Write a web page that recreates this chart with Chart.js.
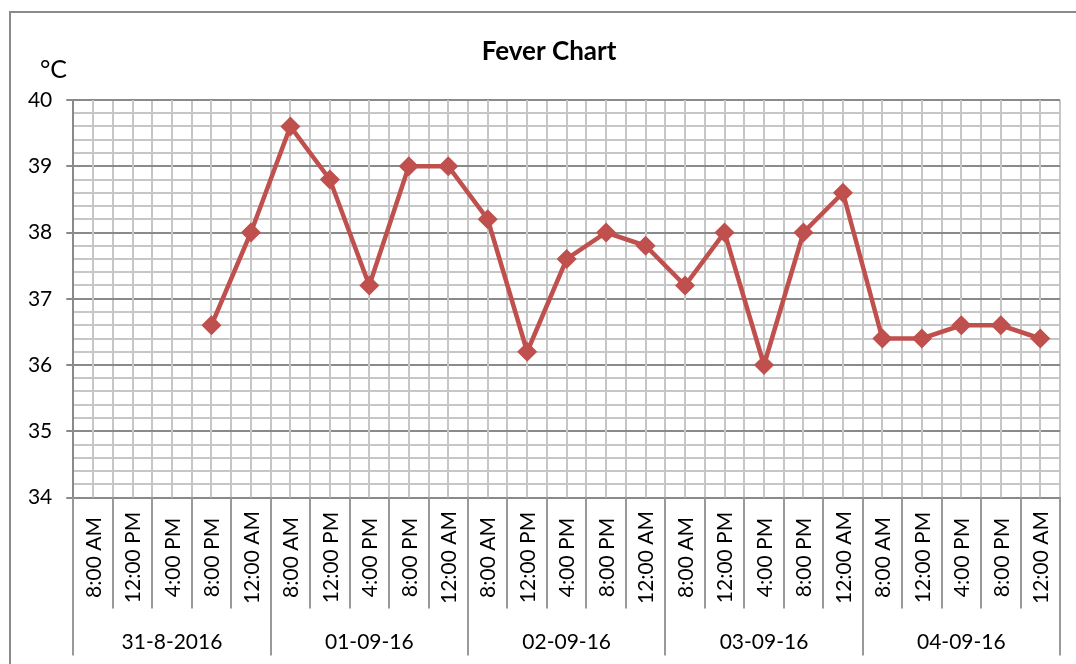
<!DOCTYPE html>
<html>
<head>
<meta charset="utf-8">
<script src="https://cdn.jsdelivr.net/npm/chart.js@4"></script>
<style>
  body { margin: 0; background: #fff; }
  #wrap { width: 1076px; height: 664px; position: relative; }
</style>
</head>
<body>
<div id="wrap"><canvas id="myChart"></canvas></div>
<script>
const days = ['31-8-2016', '01-09-16', '02-09-16', '03-09-16', '04-09-16'];
const times = ['8:00 AM', '12:00 PM', '4:00 PM', '8:00 PM', '12:00 AM'];
const temps = [
	null, null, null, 36.6, 38.0,
	39.6, 38.8, 37.2, 39.0, 39.0,
	38.2, 36.2, 37.6, 38.0, 37.8,
	37.2, 38.0, 36.0, 38.0, 38.6,
	36.4, 36.4, 36.6, 36.6, 36.4,
];
const yTicksMin = 34;
const yTicksMax = 40;

const labels = days.flatMap(() => times);
const red = '#c0504d';
const minorGrid = '#c6c6c6';
const majorGrid = '#8a8a8a';

Chart.defaults.font.family = 'Lato';
Chart.defaults.color = '#000';

const isMajor = v => Math.abs(v - Math.round(v)) < 1e-6;

// extra drawing: minor vertical lines, labels below the axis, title, border
const decorations = {
	id: 'decorations',
	beforeDatasetsDraw: chart => {
		const ctx = chart.ctx;
		const x = chart.scales.x;
		const area = chart.chartArea;
		ctx.save();
		ctx.strokeStyle = minorGrid;
		ctx.lineWidth = 2;
		labels.forEach((_, i) => {
			const px = Math.round(x.getPixelForValue(i));
			ctx.beginPath();
			ctx.moveTo(px, area.top);
			ctx.lineTo(px, area.bottom);
			ctx.stroke();
		});
		ctx.restore();
	},
	afterDraw: chart => {
		const ctx = chart.ctx;
		const x = chart.scales.x;
		const area = chart.chartArea;
		const n = labels.length;
		const step = (area.right - area.left) / n;

		ctx.save();
		// separators below the axis
		ctx.strokeStyle = '#999';
		ctx.lineWidth = 2;
		for (let i = 0; i <= n; i++) {
			const px = Math.round(area.left + i * step);
			const len = i % times.length === 0 ? 158 : 111;
			ctx.beginPath();
			ctx.moveTo(px, area.bottom);
			ctx.lineTo(px, area.bottom + len);
			ctx.stroke();
		}

		// rotated time labels
		ctx.fillStyle = '#000';
		ctx.font = '21px Lato';
		ctx.textAlign = 'center';
		ctx.textBaseline = 'middle';
		labels.forEach((lab, i) => {
			ctx.save();
			ctx.translate(x.getPixelForValue(i) + 1, area.bottom + 60);
			ctx.rotate(-Math.PI / 2);
			ctx.fillText(lab, 0, 0);
			ctx.restore();
		});

		// day labels
		ctx.textBaseline = 'alphabetic';
		days.forEach((d, k) => {
			const cx = area.left + (k + 0.5) * times.length * step;
			ctx.fillText(d, cx, area.bottom + 151);
		});

		// title and unit
		ctx.font = 'bold 26px Lato';
		ctx.fillText('Fever Chart', 549, 60);
		ctx.font = '25px Lato';
		ctx.textAlign = 'left';
		ctx.fillText('°C', 40, 78);

		// outer frame
		ctx.strokeStyle = '#8a8a8a';
		ctx.lineWidth = 2;
		ctx.strokeRect(10, 12, 1100, 700);
		ctx.restore();
	},
};

const chart = new Chart(document.getElementById('myChart'), {
	type: 'line',
	data: {
		labels: labels,
		datasets: [
			{
				data: temps,
				borderColor: red,
				backgroundColor: red,
				borderWidth: 4.5,
				pointStyle: 'rectRot',
				pointRadius: 9,
				pointBorderWidth: 1.5,
				pointBackgroundColor: red,
				pointBorderColor: red,
				tension: 0,
			},
		],
	},
	options: {
		responsive: true,
		maintainAspectRatio: false,
		animation: false,
		layout: { padding: { left: 10, top: 100, right: 16, bottom: 0 } },
		plugins: {
			legend: { display: false },
			tooltip: { enabled: false },
		},
		scales: {
			x: {
				type: 'category',
				offset: true,
				afterFit: scale => { scale.height = 166.5; },
				grid: { offset: true, color: minorGrid, lineWidth: 2, drawTicks: false },
				border: { color: majorGrid, width: 2 },
				ticks: { display: false },
			},
			y: {
				min: yTicksMin,
				max: yTicksMax,
				afterFit: scale => { scale.width = 63.3; },
				afterBuildTicks: scale => {
					const t = [];
					for (let k = 0; k <= 30; k++) t.push({ value: yTicksMin + k * 0.2 });
					scale.ticks = t;
				},
				grid: {
					color: c => (isMajor(c.tick.value) ? majorGrid : minorGrid),
					tickColor: c => (isMajor(c.tick.value) ? majorGrid : 'rgba(0,0,0,0)'),
					lineWidth: 2,
					tickLength: 7,
				},
				border: { color: majorGrid, width: 2 },
				ticks: {
					autoSkip: false,
					padding: 14,
					font: { size: 21 },
					callback: value => (isMajor(value) ? Math.round(value) : ''),
				},
			},
		},
	},
	plugins: [decorations],
});
</script>
</body>
</html>
